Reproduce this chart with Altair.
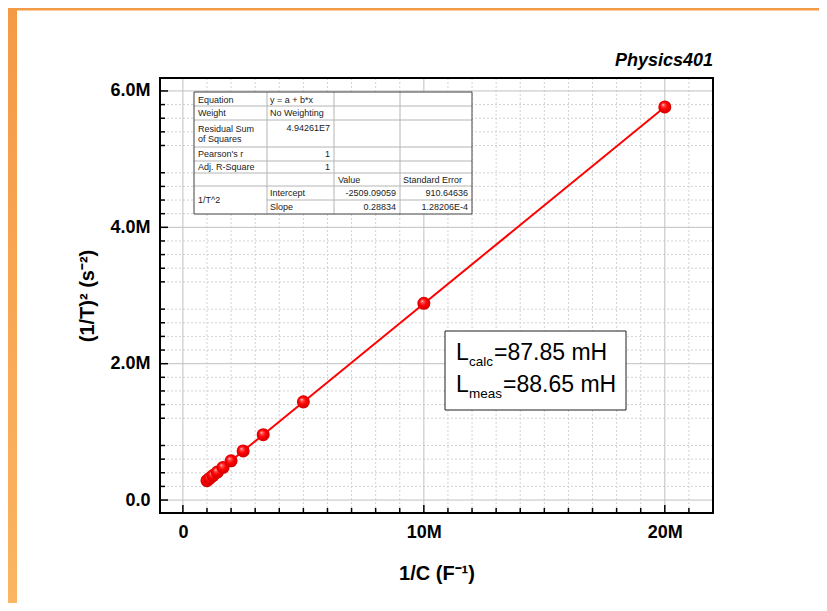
import altair as alt
import pandas as pd

# ---------------- data ----------------
inv_C = [1.0e6, 1.111e6, 1.25e6, 1.429e6, 1.667e6, 2.0e6, 2.5e6, 3.333e6, 5.0e6, 10.0e6, 20.0e6]
inv_T2 = [0.285e6, 0.318e6, 0.358e6, 0.410e6, 0.478e6, 0.575e6, 0.720e6, 0.958e6, 1.440e6, 2.885e6, 5.765e6]

fit_x = [1.0e6, 20.0e6]
fit_y = [0.286e6, 5.764e6]

x_major = [0, 10e6, 20e6]
x_minor = [1e6, 2e6, 3e6, 4e6, 5e6, 6e6, 7e6, 8e6, 9e6, 11e6, 12e6, 13e6, 14e6, 15e6,
           16e6, 17e6, 18e6, 19e6, 21e6]
y_major = [0, 2e6, 4e6, 6e6]
y_minor = [v * 1e5 for v in (2, 4, 6, 8, 12, 14, 16, 18, 22, 24, 26, 28, 32, 34, 36, 38,
                             42, 44, 46, 48, 52, 54, 56, 58)]

table_left_text = ["Equation", "y = a + b*x", "Weight", "No Weighting", "Residual Sum",
                   "of Squares", "Pearson's r", "Adj. R-Square", "Value", "Standard Error",
                   "1/T^2", "Intercept", "Slope"]
table_right_text = ["4.94261E7", "1", "1", "-2509.09059", "910.64636", "0.28834", "1.28206E-4"]

box_L = ["L", "L"]
box_sub = ["calc", "meas"]
box_val = ["=87.85 mH", "=88.65 mH"]

title_text = "Physics401"
x_title = "1/C (F\u207b\u00b9)"
y_title = "(1/T)\u00b2 (s\u207b\u00b2)"

# ---------------- geometry ----------------
F = "Liberation Sans, Arial, sans-serif"
W, H = 553, 435
X0, X1 = -0.95e6, 22.0e6
Y0, Y1 = -0.19e6, 6.19e6


def dx(px):
    return X0 + px / W * (X1 - X0)


def dy(py):
    return Y1 - py / H * (Y1 - Y0)


xs = alt.Scale(domain=[X0, X1], nice=False, zero=False)
ys = alt.Scale(domain=[Y0, Y1], nice=False, zero=False)

x_axis = alt.Axis(values=x_major, labelExpr="datum.value == 0 ? '0' : format(datum.value/1000000, '.0f') + 'M'",
                  ticks=False, domain=False, grid=False, labelFlush=False, labelOverlap=False,
                  labelFont=F, labelFontSize=18, labelFontWeight="bold", labelColor="black",
                  labelPadding=10, title=x_title, titleFont=F, titleFontSize=20,
                  titleFontWeight="bold", titleColor="black", titlePadding=22, zindex=1)
y_axis = alt.Axis(values=y_major, labelExpr="datum.value == 0 ? '0.0' : format(datum.value/1000000, '.1f') + 'M'",
                  ticks=False, domain=False, grid=False, labelFlush=False, labelOverlap=False,
                  labelFont=F, labelFontSize=18, labelFontWeight="bold", labelColor="black",
                  labelPadding=10, title=y_title, titleFont=F, titleFontSize=20,
                  titleFontWeight="bold", titleColor="black", titlePadding=12, zindex=1)


def XQ(f):
    return alt.X(f, type="quantitative", scale=xs, axis=x_axis)


def YQ(f):
    return alt.Y(f, type="quantitative", scale=ys, axis=y_axis)


one = pd.DataFrame({"a": [0]})
layers = []

# orange page border strips
layers.append(alt.Chart(one).mark_rect(
    fill=alt.LinearGradient(gradient="linear", x1=0, y1=0, x2=0, y2=1,
                            stops=[alt.GradientStop(offset=0, color="#f39a46"),
                                   alt.GradientStop(offset=1, color="#fbb563")])
).encode(x=alt.value(-152), x2=alt.value(-143), y=alt.value(-70), y2=alt.value(H + 90)))
layers.append(alt.Chart(one).mark_rect(color="#f39a46").encode(
    x=alt.value(-152), x2=alt.value(W + 106), y=alt.value(-70), y2=alt.value(-67.5)))

# grids
layers.append(alt.Chart(pd.DataFrame({"v": x_minor})).mark_rule(
    color="#d2d2d2", strokeDash=[2, 2], strokeWidth=1).encode(x=XQ("v")))
layers.append(alt.Chart(pd.DataFrame({"v": y_minor})).mark_rule(
    color="#d2d2d2", strokeDash=[2, 2], strokeWidth=1).encode(y=YQ("v")))
layers.append(alt.Chart(pd.DataFrame({"v": x_major})).mark_rule(
    color="#c0c0c0", strokeWidth=1).encode(x=XQ("v")))
layers.append(alt.Chart(pd.DataFrame({"v": y_major})).mark_rule(
    color="#c0c0c0", strokeWidth=1).encode(y=YQ("v")))

# ---------------- fit table ----------------
cols = [34, 107, 174, 240, 312]
rows = [14, 28, 42, 69, 83, 95, 108, 122, 136]
layers.append(alt.Chart(pd.DataFrame({"x1": [dx(cols[0])], "x2": [dx(cols[-1])],
                                      "y1": [dy(rows[0])], "y2": [dy(rows[-1])]}))
              .mark_rect(fill="white").encode(x=XQ("x1"), x2="x2", y=YQ("y1"), y2="y2"))
seg = []
for r in rows[1:-2]:
    seg.append((cols[0], cols[-1], r, r))
seg.append((cols[1], cols[-1], rows[-2], rows[-2]))
for c in cols[1:-1]:
    seg.append((c, c, rows[0], rows[-1]))
seg_df = pd.DataFrame({"x1": [dx(s[0]) for s in seg], "x2": [dx(s[1]) for s in seg],
                       "y1": [dy(s[2]) for s in seg], "y2": [dy(s[3]) for s in seg]})
layers.append(alt.Chart(seg_df).mark_rule(color="#b4b4b4", strokeWidth=1).encode(
    x=XQ("x1"), x2="x2", y=YQ("y1"), y2="y2"))
layers.append(alt.Chart(pd.DataFrame({"x1": [dx(cols[0])], "x2": [dx(cols[-1])],
                                      "y1": [dy(rows[0])], "y2": [dy(rows[-1])]}))
              .mark_rect(fillOpacity=0, stroke="#404040", strokeWidth=1)
              .encode(x=XQ("x1"), x2="x2", y=YQ("y1"), y2="y2"))

lpos = [(38, 22), (110, 22), (38, 35), (110, 35), (38, 51), (38, 61), (38, 76), (38, 89),
        (178, 102), (243, 102), (38, 122), (110, 115), (110, 129)]
rpos = [(170, 50), (170, 76), (170, 89), (236, 115), (308, 115), (236, 129), (308, 129)]
layers.append(alt.Chart(pd.DataFrame({"t": table_left_text,
                                      "x": [dx(p[0]) for p in lpos],
                                      "y": [dy(p[1]) for p in lpos]}))
              .mark_text(align="left", baseline="middle", font=F, fontSize=9, color="#222222")
              .encode(x=XQ("x"), y=YQ("y"), text="t:N"))
layers.append(alt.Chart(pd.DataFrame({"t": table_right_text,
                                      "x": [dx(p[0]) for p in rpos],
                                      "y": [dy(p[1]) for p in rpos]}))
              .mark_text(align="right", baseline="middle", font=F, fontSize=9, color="#222222")
              .encode(x=XQ("x"), y=YQ("y"), text="t:N"))

# ---------------- L text box ----------------
layers.append(alt.Chart(pd.DataFrame({"x1": [dx(285)], "x2": [dx(466)],
                                      "y1": [dy(253)], "y2": [dy(332)]}))
              .mark_rect(fill="white", stroke="#202020", strokeWidth=1)
              .encode(x=XQ("x1"), x2="x2", y=YQ("y1"), y2="y2"))
layers.append(alt.Chart(pd.DataFrame({"t": box_L, "x": [dx(296)] * 2, "y": [dy(282), dy(314)]}))
              .mark_text(align="left", baseline="alphabetic", font=F, fontSize=23, color="black")
              .encode(x=XQ("x"), y=YQ("y"), text="t:N"))
layers.append(alt.Chart(pd.DataFrame({"t": box_sub, "x": [dx(309)] * 2, "y": [dy(288), dy(320)]}))
              .mark_text(align="left", baseline="alphabetic", font=F, fontSize=13.5, color="black")
              .encode(x=XQ("x"), y=YQ("y"), text="t:N"))
layers.append(alt.Chart(pd.DataFrame({"t": box_val, "x": [dx(334), dx(343)], "y": [dy(282), dy(314)]}))
              .mark_text(align="left", baseline="alphabetic", font=F, fontSize=23, color="black")
              .encode(x=XQ("x"), y=YQ("y"), text="t:N"))

# ---------------- fit line and points ----------------
layers.append(alt.Chart(pd.DataFrame({"x": fit_x, "y": fit_y})).mark_line(
    color="#ff0000", strokeWidth=2).encode(x=XQ("x"), y=YQ("y")))

grad = alt.RadialGradient(gradient="radial", x1=0.36, y1=0.32, r1=0, x2=0.5, y2=0.5, r2=0.55,
                          stops=[alt.GradientStop(offset=0, color="#fff0f0"),
                                 alt.GradientStop(offset=0.18, color="#ff5050"),
                                 alt.GradientStop(offset=0.5, color="#ff0000"),
                                 alt.GradientStop(offset=1, color="#c80000")])

layers.append(alt.Chart(pd.DataFrame({"x": inv_C, "y": inv_T2})).mark_circle(
    size=170, fill=grad, opacity=1, strokeWidth=0).encode(x=XQ("x"), y=YQ("y")))

# ---------------- inward ticks ----------------
layers.append(alt.Chart(pd.DataFrame({"v": x_major})).mark_rule(color="black", strokeWidth=1.5)
              .encode(x=XQ("v"), y=alt.value(H), y2=alt.value(H - 8)))
layers.append(alt.Chart(pd.DataFrame({"v": x_minor})).mark_rule(color="black", strokeWidth=1.5)
              .encode(x=XQ("v"), y=alt.value(H), y2=alt.value(H - 5)))
layers.append(alt.Chart(pd.DataFrame({"v": y_major})).mark_rule(color="black", strokeWidth=1.5)
              .encode(y=YQ("v"), x=alt.value(0), x2=alt.value(8)))
layers.append(alt.Chart(pd.DataFrame({"v": y_minor})).mark_rule(color="black", strokeWidth=1.5)
              .encode(y=YQ("v"), x=alt.value(0), x2=alt.value(5)))

# frame
layers.append(alt.Chart(one).mark_rect(fillOpacity=0, stroke="black", strokeWidth=2).encode(
    x=alt.value(0), x2=alt.value(W), y=alt.value(0), y2=alt.value(H)))

# corner title
layers.append(alt.Chart(pd.DataFrame({"t": [title_text]})).mark_text(
    align="right", baseline="alphabetic", font=F, fontSize=18, fontStyle="italic",
    fontWeight="bold", color="black").encode(x=alt.value(W), y=alt.value(-12), text="t:N"))

chart = alt.layer(*layers).properties(
    width=W, height=H,
    padding={"left": 152, "top": 70, "right": 106, "bottom": 90},
    autosize=alt.AutoSizeParams(type="none"),
    background="white",
).configure_view(strokeWidth=0)

chart.save("out.html", embed_options={"renderer": "svg", "actions": False})
